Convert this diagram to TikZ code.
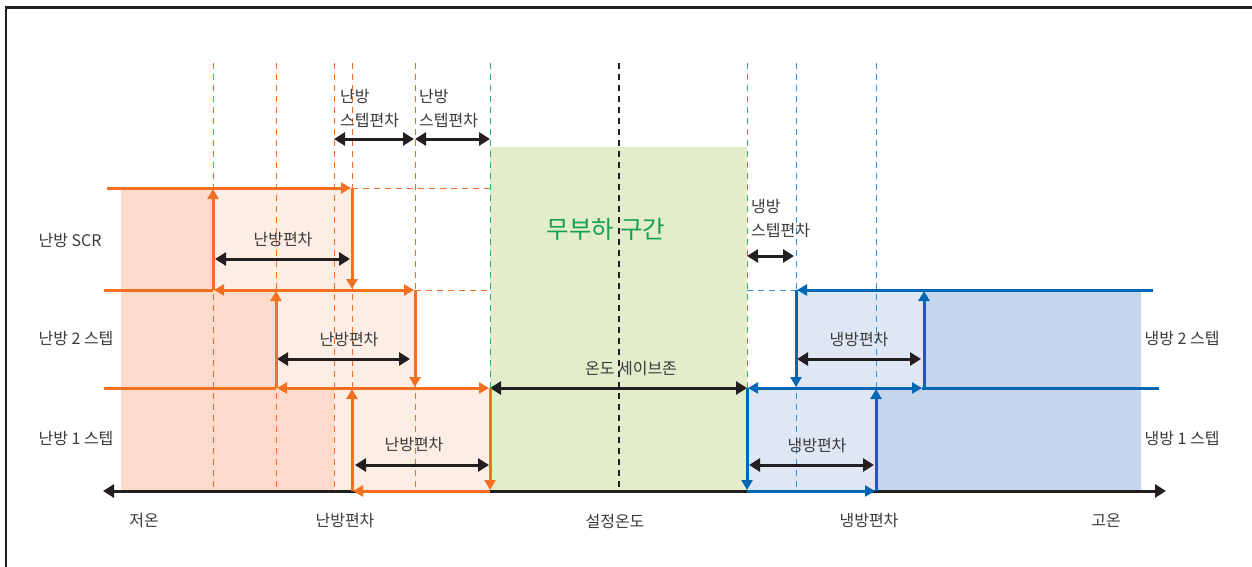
\documentclass[tikz,border=0pt]{standalone}
\usepackage{fontspec}
\setmainfont{Noto Sans CJK KR}
\usetikzlibrary{arrows.meta}
\definecolor{org}{HTML}{F37021}
\definecolor{pkD}{HTML}{FBDCCC}
\definecolor{pkL}{HTML}{FDEEE5}
\definecolor{grnF}{HTML}{E3EDCB}
\definecolor{grnD}{HTML}{2DB36A}
\definecolor{grnT}{HTML}{12A150}
\definecolor{blu}{HTML}{0067B6}
\definecolor{bluD}{HTML}{3A8ED3}
\definecolor{blL}{HTML}{DFE7F5}
\definecolor{blD}{HTML}{C6D4EC}
\definecolor{blk}{HTML}{231F20}
\definecolor{txt}{HTML}{3A3A3A}
\begin{document}
\begin{tikzpicture}[x=1pt,y=-1pt,
  >={Triangle[length=10pt,width=11pt]},
  heat/.style={draw=org,line width=3pt},
  cool/.style={draw=blu,line width=3pt},
  dimarrow/.style={draw=blk,line width=3pt,{Triangle[length=11pt,width=13pt]}-{Triangle[length=11pt,width=13pt]}},
  odash/.style={draw=org,line width=0.9pt,dash pattern=on 6pt off 5pt},
  gdash/.style={draw=grnD,line width=1pt,dash pattern=on 6pt off 5pt},
  bdash/.style={draw=bluD,line width=0.9pt,dash pattern=on 6pt off 5pt},
  kdash/.style={draw=blk,line width=2pt,dash pattern=on 6pt off 5pt},
  lbl/.style={text=txt,font=\fontsize{16}{24}\selectfont,inner sep=0pt},
  ]
\useasboundingbox (0,0) rectangle (1252,567);
% frame
\draw[blk,line width=2.6pt] (6,567) -- (6,7.5) -- (1252,7.5);
% fills
\fill[pkD] (121,188) rectangle (213,290);
\fill[pkL] (213,188) rectangle (352,290);
\fill[pkD] (121,290) rectangle (276,388);
\fill[pkL] (276,290) rectangle (415,388);
\fill[pkD] (121,388) rectangle (334,491);
\fill[pkL] (334,388) rectangle (490,491);
\fill[grnF] (490,147) rectangle (747,491);
\fill[blL] (747,388) rectangle (876,491);
\fill[blD] (876,388) rectangle (1141,491);
\fill[blL] (796,290) rectangle (924,388);
\fill[blD] (924,290) rectangle (1141,388);
% dashed verticals
\foreach \x in {213,276,334,352,415} \draw[odash] (\x,63) -- (\x,491);
\foreach \x in {490,747} \draw[gdash] (\x,63) -- (\x,491);
\foreach \x in {796,876} \draw[bdash] (\x,63) -- (\x,491);
\draw[kdash] (619,63) -- (619,491);
% dashed horizontals
\draw[odash] (352,188) -- (490,188);
\draw[odash] (415,290) -- (490,290);
\draw[bdash] (747,290) -- (796,290);
% axis
\draw[blk,line width=3pt,{Triangle[length=11pt,width=13pt]}-{Triangle[length=11pt,width=13pt]}] (103,491) -- (1166,491);
% dimension arrows
\draw[dimarrow] (334,139) -- (414,139);
\draw[dimarrow] (415,139) -- (490,139);
\draw[dimarrow] (747,256) -- (794,256);
\draw[dimarrow] (215,259) -- (350,259);
\draw[dimarrow] (277,359) -- (410,359);
\draw[dimarrow] (355,465) -- (489,465);
\draw[dimarrow] (490,388) -- (747,388);
\draw[dimarrow] (797,359) -- (921,359);
\draw[dimarrow] (749,465) -- (874,465);
% heating loops
\draw[heat,->] (107,188) -- (351,188);
\draw[heat,->] (213,290) -- (213,189);
\draw[heat,->] (352,188) -- (352,289);
\draw[heat] (104,290) -- (213,290);
\draw[heat,<->] (214,290) -- (414,290);
\draw[heat,->] (276,388) -- (276,291);
\draw[heat,->] (415,290) -- (415,387);
\draw[heat] (104,388) -- (276,388);
\draw[heat,<->] (277,388) -- (489,388);
\draw[heat,->] (352,491) -- (352,389);
\draw[heat,->] (490,388) -- (490,490);
\draw[heat,<-] (353,491) -- (490,491);
% cooling loops
\draw[cool,<-] (797,290) -- (1153,290);
\draw[cool,->] (796,290) -- (796,387);
\draw[cool,->] (924,388) -- (924,291);
\draw[cool,<->] (748,388) -- (922,388);
\draw[cool] (922,388) -- (1159,388);
\draw[cool,->] (747,388) -- (747,490);
\draw[cool,->] (876,491) -- (876,389);
\draw[cool,->] (747,491) -- (875,491);
% texts
\node[text=grnT,font=\fontsize{24.5}{30}\selectfont,inner sep=0pt] (nl) at (606,229) {무부하 구간};
\node[lbl,align=left,anchor=north west] (hs1) at (340,89) {난방\\스텝편차};
\node[lbl,align=left,anchor=north west] (hs2) at (419,89) {난방\\스텝편차};
\node[lbl,align=left,anchor=north west] (cs) at (751,199) {냉방\\스텝편차};
\node[lbl] (d1) at (283,240) {난방편차};
\node[lbl] (d2) at (349,340) {난방편차};
\node[lbl] (d3) at (414,445) {난방편차};
\node[lbl] (sz) at (631,369) {온도 세이브존};
\node[lbl] (c2) at (859,340) {냉방편차};
\node[lbl] (c1) at (817,446) {냉방편차};
\node[lbl] (l1) at (70,240) {난방 SCR};
\node[lbl] (l2) at (76,338) {난방 2 스텝};
\node[lbl] (l3) at (76,438) {난방 1 스텝};
\node[lbl] (r2) at (1182,338) {냉방 2 스텝};
\node[lbl] (r1) at (1182,438) {냉방 1 스텝};
\node[lbl] (b1) at (144,521) {저온};
\node[lbl] (b2) at (345,521) {난방편차};
\node[lbl] (b3) at (615,521) {설정온도};
\node[lbl] (b4) at (869,521) {냉방편차};
\node[lbl] (b5) at (1106,521) {고온};
\end{tikzpicture}
\end{document}
